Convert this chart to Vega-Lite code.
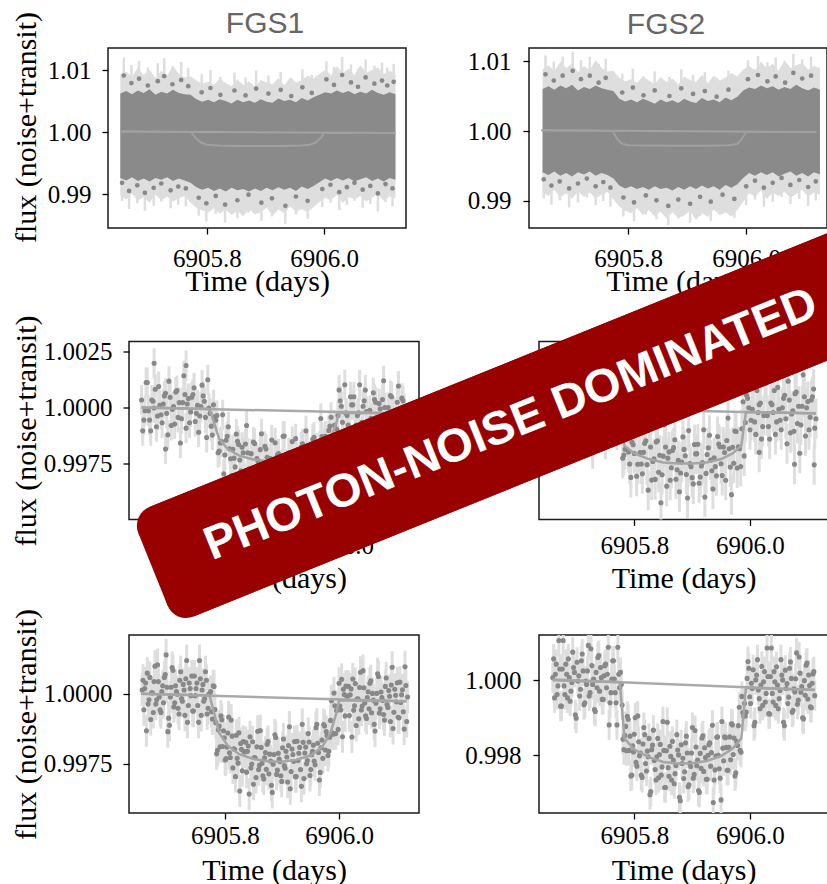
{
"$schema":"https://vega.github.io/schema/vega-lite/v6.json",
"background":"#ffffff",
"padding":{"left":10,"top":8,"right":0,"bottom":0},
"config":{
 "view":{"stroke":"#1a1a1a","strokeWidth":1.5},
 "axis":{"domain":false,"grid":false,"tickColor":"#000000","tickWidth":1.3,"tickSize":6,"labelFont":"Liberation Serif","labelFontSize":25,"labelColor":"#000000","titleFont":"Liberation Serif","titleFontSize":30,"titleFontWeight":"normal","titleColor":"#000000","labelFlush":false,"labelOverlap":false,"titleBaseline":"alphabetic"},
 "axisY":{"labelPadding":11},
 "title":{"font":"Liberation Sans","fontSize":30,"fontWeight":"normal","color":"#666666","baseline":"alphabetic","offset":13,"frame":"group"}
},
"datasets":{
"l1light":[{"t":6905.652,"f":0.9898,"f2":1.0093},{"t":6905.662,"f":0.9891,"f2":1.0097},{"t":6905.672,"f":0.9901,"f2":1.0089},{"t":6905.682,"f":0.9889,"f2":1.0104},{"t":6905.692,"f":0.9895,"f2":1.0092},{"t":6905.702,"f":0.9886,"f2":1.01},{"t":6905.712,"f":0.9899,"f2":1.0087},{"t":6905.722,"f":0.989,"f2":1.0099},{"t":6905.732,"f":0.9896,"f2":1.0091},{"t":6905.742,"f":0.9888,"f2":1.0106},{"t":6905.752,"f":0.9893,"f2":1.0094},{"t":6905.762,"f":0.9897,"f2":1.0088},{"t":6905.772,"f":0.9886,"f2":1.009},{"t":6905.782,"f":0.9878,"f2":1.0083},{"t":6905.792,"f":0.9874,"f2":1.0078},{"t":6905.802,"f":0.987,"f2":1.0081},{"t":6905.812,"f":0.9877,"f2":1.0076},{"t":6905.822,"f":0.9868,"f2":1.0086},{"t":6905.832,"f":0.9875,"f2":1.0079},{"t":6905.842,"f":0.9866,"f2":1.0074},{"t":6905.852,"f":0.9873,"f2":1.0085},{"t":6905.862,"f":0.9864,"f2":1.0076},{"t":6905.872,"f":0.9876,"f2":1.0082},{"t":6905.882,"f":0.9867,"f2":1.0073},{"t":6905.892,"f":0.9871,"f2":1.0084},{"t":6905.902,"f":0.9878,"f2":1.008},{"t":6905.912,"f":0.9865,"f2":1.0077},{"t":6905.922,"f":0.9875,"f2":1.0087},{"t":6905.932,"f":0.9869,"f2":1.0075},{"t":6905.942,"f":0.988,"f2":1.0088},{"t":6905.952,"f":0.9872,"f2":1.008},{"t":6905.962,"f":0.9876,"f2":1.0084},{"t":6905.972,"f":0.987,"f2":1.0091},{"t":6905.982,"f":0.9879,"f2":1.0086},{"t":6905.992,"f":0.9887,"f2":1.0094},{"t":6906.002,"f":0.9894,"f2":1.01},{"t":6906.012,"f":0.989,"f2":1.0092},{"t":6906.022,"f":0.9899,"f2":1.0106},{"t":6906.032,"f":0.9886,"f2":1.0095},{"t":6906.042,"f":0.9895,"f2":1.0102},{"t":6906.052,"f":0.9891,"f2":1.0091},{"t":6906.062,"f":0.9897,"f2":1.0108},{"t":6906.072,"f":0.9888,"f2":1.0095},{"t":6906.082,"f":0.9894,"f2":1.01},{"t":6906.092,"f":0.99,"f2":1.0104},{"t":6906.102,"f":0.9889,"f2":1.0093},{"t":6906.112,"f":0.9896,"f2":1.0099},{"t":6906.122,"f":0.9893,"f2":1.0095}],
"l1band":[{"t":6905.652,"f":0.9926,"f2":1.0062},{"t":6905.662,"f":0.9922,"f2":1.0066},{"t":6905.672,"f":0.9927,"f2":1.0061},{"t":6905.682,"f":0.9921,"f2":1.0067},{"t":6905.692,"f":0.9925,"f2":1.0063},{"t":6905.702,"f":0.992,"f2":1.0069},{"t":6905.712,"f":0.9926,"f2":1.006},{"t":6905.722,"f":0.9923,"f2":1.0065},{"t":6905.732,"f":0.9927,"f2":1.0062},{"t":6905.742,"f":0.9921,"f2":1.0068},{"t":6905.752,"f":0.9925,"f2":1.0063},{"t":6905.762,"f":0.9922,"f2":1.0061},{"t":6905.772,"f":0.9918,"f2":1.006},{"t":6905.782,"f":0.9911,"f2":1.0053},{"t":6905.792,"f":0.9907,"f2":1.0049},{"t":6905.802,"f":0.991,"f2":1.0052},{"t":6905.812,"f":0.9905,"f2":1.0048},{"t":6905.822,"f":0.9909,"f2":1.0053},{"t":6905.832,"f":0.9904,"f2":1.005},{"t":6905.842,"f":0.991,"f2":1.0046},{"t":6905.852,"f":0.9906,"f2":1.0052},{"t":6905.862,"f":0.9908,"f2":1.0048},{"t":6905.872,"f":0.9904,"f2":1.0051},{"t":6905.882,"f":0.9909,"f2":1.0047},{"t":6905.892,"f":0.9905,"f2":1.0053},{"t":6905.902,"f":0.991,"f2":1.0049},{"t":6905.912,"f":0.9906,"f2":1.0047},{"t":6905.922,"f":0.9911,"f2":1.0054},{"t":6905.932,"f":0.9907,"f2":1.005},{"t":6905.942,"f":0.991,"f2":1.0052},{"t":6905.952,"f":0.9905,"f2":1.0048},{"t":6905.962,"f":0.9912,"f2":1.0055},{"t":6905.972,"f":0.9908,"f2":1.0051},{"t":6905.982,"f":0.9913,"f2":1.0056},{"t":6905.992,"f":0.9919,"f2":1.006},{"t":6906.002,"f":0.9925,"f2":1.0064},{"t":6906.012,"f":0.9921,"f2":1.0062},{"t":6906.022,"f":0.9926,"f2":1.0067},{"t":6906.032,"f":0.9922,"f2":1.0063},{"t":6906.042,"f":0.9926,"f2":1.0066},{"t":6906.052,"f":0.992,"f2":1.0061},{"t":6906.062,"f":0.9924,"f2":1.0065},{"t":6906.072,"f":0.9927,"f2":1.0062},{"t":6906.082,"f":0.9921,"f2":1.0068},{"t":6906.092,"f":0.9925,"f2":1.0063},{"t":6906.102,"f":0.992,"f2":1.006},{"t":6906.112,"f":0.9926,"f2":1.0064},{"t":6906.122,"f":0.9923,"f2":1.0061}],
"l1out":[{"t":6905.658,"f":1.0091},{"t":6905.671,"f":1.0079},{"t":6905.684,"f":1.0086},{"t":6905.699,"f":1.0075},{"t":6905.716,"f":1.0082},{"t":6905.727,"f":1.009},{"t":6905.741,"f":1.0077},{"t":6905.756,"f":1.0084},{"t":6905.768,"f":1.0074},{"t":6905.791,"f":1.0064},{"t":6905.806,"f":1.0071},{"t":6905.823,"f":1.006},{"t":6905.847,"f":1.0067},{"t":6905.866,"f":1.0059},{"t":6905.884,"f":1.007},{"t":6905.905,"f":1.0062},{"t":6905.926,"f":1.0068},{"t":6905.944,"f":1.0058},{"t":6905.963,"f":1.0072},{"t":6905.979,"f":1.0063},{"t":6906.004,"f":1.0085},{"t":6906.017,"f":1.0076},{"t":6906.031,"f":1.0092},{"t":6906.046,"f":1.008},{"t":6906.058,"f":1.0073},{"t":6906.071,"f":1.0088},{"t":6906.086,"f":1.0078},{"t":6906.099,"f":1.0083},{"t":6906.108,"f":1.0075},{"t":6906.119,"f":1.0081},{"t":6905.655,"f":0.9918},{"t":6905.667,"f":0.9905},{"t":6905.681,"f":0.9914},{"t":6905.694,"f":0.9902},{"t":6905.709,"f":0.991},{"t":6905.722,"f":0.9917},{"t":6905.738,"f":0.9906},{"t":6905.751,"f":0.9912},{"t":6905.764,"f":0.9909},{"t":6905.786,"f":0.9894},{"t":6905.799,"f":0.9885},{"t":6905.815,"f":0.9897},{"t":6905.831,"f":0.9883},{"t":6905.852,"f":0.989},{"t":6905.871,"f":0.9899},{"t":6905.893,"f":0.9886},{"t":6905.911,"f":0.9893},{"t":6905.934,"f":0.9881},{"t":6905.952,"f":0.9896},{"t":6905.972,"f":0.9889},{"t":6905.997,"f":0.9908},{"t":6906.011,"f":0.9915},{"t":6906.026,"f":0.9903},{"t":6906.039,"f":0.9911},{"t":6906.052,"f":0.9918},{"t":6906.066,"f":0.9907},{"t":6906.079,"f":0.9913},{"t":6906.092,"f":0.9901},{"t":6906.105,"f":0.9916},{"t":6906.117,"f":0.9909}],
"l1trend":[{"t":6905.652,"f":1.0001},{"t":6906.122,"f":0.99985}],
"l1model":[{"t":6905.652,"f":1.0001},{"t":6905.773,"f":1.0},{"t":6905.78,"f":0.9991},{"t":6905.79,"f":0.9983},{"t":6905.8,"f":0.99795},{"t":6905.82,"f":0.99782},{"t":6905.85,"f":0.99776},{"t":6905.89,"f":0.99773},{"t":6905.93,"f":0.99775},{"t":6905.96,"f":0.99782},{"t":6905.975,"f":0.99795},{"t":6905.985,"f":0.99825},{"t":6905.995,"f":0.9991},{"t":6906.0,"f":0.99988},{"t":6906.122,"f":0.99985}],
"r1light":[{"t":6905.655,"f":0.9913,"f2":1.0088},{"t":6905.665,"f":0.9907,"f2":1.0094},{"t":6905.675,"f":0.9916,"f2":1.0085},{"t":6905.685,"f":0.9905,"f2":1.0099},{"t":6905.695,"f":0.9911,"f2":1.009},{"t":6905.705,"f":0.9903,"f2":1.0096},{"t":6905.715,"f":0.9914,"f2":1.0084},{"t":6905.725,"f":0.9906,"f2":1.0093},{"t":6905.735,"f":0.9912,"f2":1.0087},{"t":6905.745,"f":0.9904,"f2":1.0101},{"t":6905.755,"f":0.9909,"f2":1.009},{"t":6905.765,"f":0.9913,"f2":1.0085},{"t":6905.775,"f":0.9902,"f2":1.0086},{"t":6905.785,"f":0.9892,"f2":1.0076},{"t":6905.795,"f":0.9886,"f2":1.0071},{"t":6905.805,"f":0.9883,"f2":1.0074},{"t":6905.815,"f":0.989,"f2":1.0069},{"t":6905.825,"f":0.988,"f2":1.0078},{"t":6905.835,"f":0.9887,"f2":1.0072},{"t":6905.845,"f":0.9878,"f2":1.0067},{"t":6905.855,"f":0.9885,"f2":1.0077},{"t":6905.865,"f":0.9875,"f2":1.007},{"t":6905.875,"f":0.9884,"f2":1.0075},{"t":6905.885,"f":0.9876,"f2":1.0066},{"t":6905.895,"f":0.9879,"f2":1.0078},{"t":6905.905,"f":0.9886,"f2":1.0073},{"t":6905.915,"f":0.9873,"f2":1.007},{"t":6905.925,"f":0.9883,"f2":1.008},{"t":6905.935,"f":0.9877,"f2":1.0068},{"t":6905.945,"f":0.9888,"f2":1.0079},{"t":6905.955,"f":0.988,"f2":1.0072},{"t":6905.965,"f":0.9884,"f2":1.0076},{"t":6905.975,"f":0.9878,"f2":1.0083},{"t":6905.985,"f":0.9887,"f2":1.0078},{"t":6905.995,"f":0.9899,"f2":1.0088},{"t":6906.005,"f":0.9911,"f2":1.0093},{"t":6906.015,"f":0.9906,"f2":1.0087},{"t":6906.025,"f":0.9915,"f2":1.0099},{"t":6906.035,"f":0.9903,"f2":1.009},{"t":6906.045,"f":0.9912,"f2":1.0096},{"t":6906.055,"f":0.9907,"f2":1.0086},{"t":6906.065,"f":0.9913,"f2":1.0101},{"t":6906.075,"f":0.9905,"f2":1.009},{"t":6906.085,"f":0.991,"f2":1.0094},{"t":6906.095,"f":0.9916,"f2":1.0097},{"t":6906.105,"f":0.9906,"f2":1.0088},{"t":6906.115,"f":0.9912,"f2":1.0093},{"t":6906.125,"f":0.9909,"f2":1.009}],
"r1band":[{"t":6905.655,"f":0.9941,"f2":1.006},{"t":6905.665,"f":0.9937,"f2":1.0064},{"t":6905.675,"f":0.9942,"f2":1.0059},{"t":6905.685,"f":0.9936,"f2":1.0065},{"t":6905.695,"f":0.994,"f2":1.0061},{"t":6905.705,"f":0.9935,"f2":1.0066},{"t":6905.715,"f":0.9941,"f2":1.0058},{"t":6905.725,"f":0.9938,"f2":1.0063},{"t":6905.735,"f":0.9942,"f2":1.006},{"t":6905.745,"f":0.9936,"f2":1.0065},{"t":6905.755,"f":0.994,"f2":1.0061},{"t":6905.765,"f":0.9937,"f2":1.0059},{"t":6905.775,"f":0.9932,"f2":1.0057},{"t":6905.785,"f":0.9922,"f2":1.0046},{"t":6905.795,"f":0.9918,"f2":1.0042},{"t":6905.805,"f":0.9921,"f2":1.0045},{"t":6905.815,"f":0.9917,"f2":1.0041},{"t":6905.825,"f":0.992,"f2":1.0046},{"t":6905.835,"f":0.9916,"f2":1.0043},{"t":6905.845,"f":0.9921,"f2":1.0039},{"t":6905.855,"f":0.9917,"f2":1.0045},{"t":6905.865,"f":0.9919,"f2":1.0041},{"t":6905.875,"f":0.9915,"f2":1.0044},{"t":6905.885,"f":0.992,"f2":1.004},{"t":6905.895,"f":0.9916,"f2":1.0046},{"t":6905.905,"f":0.9921,"f2":1.0042},{"t":6905.915,"f":0.9917,"f2":1.004},{"t":6905.925,"f":0.9922,"f2":1.0047},{"t":6905.935,"f":0.9918,"f2":1.0043},{"t":6905.945,"f":0.9921,"f2":1.0045},{"t":6905.955,"f":0.9916,"f2":1.0041},{"t":6905.965,"f":0.9923,"f2":1.0048},{"t":6905.975,"f":0.9919,"f2":1.0044},{"t":6905.985,"f":0.9924,"f2":1.0049},{"t":6905.995,"f":0.9933,"f2":1.0058},{"t":6906.005,"f":0.994,"f2":1.0062},{"t":6906.015,"f":0.9936,"f2":1.006},{"t":6906.025,"f":0.9941,"f2":1.0065},{"t":6906.035,"f":0.9937,"f2":1.0061},{"t":6906.045,"f":0.9941,"f2":1.0064},{"t":6906.055,"f":0.9935,"f2":1.0059},{"t":6906.065,"f":0.9939,"f2":1.0063},{"t":6906.075,"f":0.9942,"f2":1.006},{"t":6906.085,"f":0.9936,"f2":1.0066},{"t":6906.095,"f":0.994,"f2":1.0061},{"t":6906.105,"f":0.9935,"f2":1.0058},{"t":6906.115,"f":0.9941,"f2":1.0062},{"t":6906.125,"f":0.9938,"f2":1.0059}],
"r1out":[{"t":6905.66,"f":1.0081},{"t":6905.674,"f":1.0072},{"t":6905.689,"f":1.0079},{"t":6905.706,"f":1.0086},{"t":6905.72,"f":1.0074},{"t":6905.735,"f":1.0079},{"t":6905.75,"f":1.0069},{"t":6905.762,"f":1.0076},{"t":6905.79,"f":1.0055},{"t":6905.808,"f":1.0062},{"t":6905.826,"f":1.0051},{"t":6905.845,"f":1.0058},{"t":6905.87,"f":1.005},{"t":6905.89,"f":1.0061},{"t":6905.91,"f":1.0053},{"t":6905.93,"f":1.0057},{"t":6905.95,"f":1.0049},{"t":6905.97,"f":1.0059},{"t":6906.003,"f":1.0074},{"t":6906.02,"f":1.008},{"t":6906.036,"f":1.0071},{"t":6906.05,"f":1.0078},{"t":6906.066,"f":1.0069},{"t":6906.08,"f":1.0083},{"t":6906.095,"f":1.0075},{"t":6906.11,"f":1.0079},{"t":6905.657,"f":0.9931},{"t":6905.67,"f":0.9922},{"t":6905.684,"f":0.9928},{"t":6905.7,"f":0.9918},{"t":6905.715,"f":0.9925},{"t":6905.73,"f":0.9932},{"t":6905.745,"f":0.9921},{"t":6905.758,"f":0.9927},{"t":6905.77,"f":0.9919},{"t":6905.792,"f":0.9905},{"t":6905.81,"f":0.9898},{"t":6905.83,"f":0.9908},{"t":6905.848,"f":0.9901},{"t":6905.868,"f":0.9893},{"t":6905.885,"f":0.9902},{"t":6905.905,"f":0.9896},{"t":6905.922,"f":0.9906},{"t":6905.94,"f":0.9899},{"t":6905.96,"f":0.9909},{"t":6905.98,"f":0.9903},{"t":6906.0,"f":0.9921},{"t":6906.015,"f":0.9929},{"t":6906.03,"f":0.9919},{"t":6906.045,"f":0.9926},{"t":6906.06,"f":0.9933},{"t":6906.075,"f":0.9923},{"t":6906.09,"f":0.993},{"t":6906.105,"f":0.992},{"t":6906.118,"f":0.9928}],
"r1trend":[{"t":6905.653,"f":1.0001},{"t":6906.119,"f":0.99985}],
"r1model":[{"t":6905.653,"f":1.0001},{"t":6905.774,"f":1.0},{"t":6905.781,"f":0.9989},{"t":6905.79,"f":0.99815},{"t":6905.8,"f":0.99798},{"t":6905.83,"f":0.99792},{"t":6905.88,"f":0.99788},{"t":6905.93,"f":0.9979},{"t":6905.97,"f":0.99796},{"t":6905.985,"f":0.99815},{"t":6905.993,"f":0.9989},{"t":6906.0,"f":0.99988},{"t":6906.119,"f":0.99985}],
"l2pts":[{"t":6905.654,"f":1.00034},{"t":6905.658,"f":0.99944},{"t":6905.662,"f":1.00112},{"t":6905.666,"f":0.99986},{"t":6905.67,"f":0.99896},{"t":6905.674,"f":1.00028},{"t":6905.678,"f":1.00082},{"t":6905.682,"f":0.99962},{"t":6905.686,"f":1.0001},{"t":6905.69,"f":0.99932},{"t":6905.694,"f":1.00052},{"t":6905.698,"f":0.99974},{"t":6905.702,"f":1.00118},{"t":6905.706,"f":0.9992},{"t":6905.71,"f":1.00004},{"t":6905.714,"f":1.0007},{"t":6905.718,"f":0.99956},{"t":6905.722,"f":0.99842},{"t":6905.726,"f":1.00022},{"t":6905.73,"f":1.00058},{"t":6905.734,"f":1.00016},{"t":6905.738,"f":0.99932},{"t":6905.742,"f":1.00046},{"t":6905.746,"f":1.00088},{"t":6905.75,"f":0.99974},{"t":6905.754,"f":0.9989},{"t":6905.758,"f":1.00004},{"t":6905.762,"f":1.00052},{"t":6905.766,"f":0.99956},{"t":6905.77,"f":1.00124},{"t":6905.774,"f":0.99974},{"t":6905.676,"f":1.00198},{"t":6905.732,"f":1.00188},{"t":6905.696,"f":0.99815},{"t":6905.778,"f":0.99877},{"t":6905.782,"f":0.99959},{"t":6905.786,"f":0.99964},{"t":6905.79,"f":0.99806},{"t":6905.794,"f":0.99848},{"t":6905.798,"f":0.99704},{"t":6905.802,"f":0.99854},{"t":6905.806,"f":0.99914},{"t":6905.81,"f":0.99771},{"t":6905.814,"f":0.99813},{"t":6905.818,"f":0.99735},{"t":6905.822,"f":0.99849},{"t":6905.826,"f":0.99766},{"t":6905.83,"f":0.99823},{"t":6905.834,"f":0.99688},{"t":6905.838,"f":0.9992},{"t":6905.842,"f":0.99725},{"t":6905.846,"f":0.99794},{"t":6905.85,"f":0.99846},{"t":6905.854,"f":0.99695},{"t":6905.858,"f":0.99759},{"t":6905.862,"f":0.99812},{"t":6905.866,"f":0.99643},{"t":6905.87,"f":0.99827},{"t":6905.874,"f":0.99778},{"t":6905.878,"f":0.9973},{"t":6905.882,"f":0.99855},{"t":6905.886,"f":0.99675},{"t":6905.89,"f":0.99759},{"t":6905.894,"f":0.99794},{"t":6905.898,"f":0.99704},{"t":6905.902,"f":0.99872},{"t":6905.906,"f":0.99748},{"t":6905.91,"f":0.99659},{"t":6905.914,"f":0.99792},{"t":6905.918,"f":0.99848},{"t":6905.922,"f":0.99729},{"t":6905.926,"f":0.99778},{"t":6905.93,"f":0.99702},{"t":6905.934,"f":0.99825},{"t":6905.938,"f":0.99749},{"t":6905.942,"f":0.99896},{"t":6905.946,"f":0.997},{"t":6905.95,"f":0.99786},{"t":6905.954,"f":0.99858},{"t":6905.958,"f":0.9975},{"t":6905.962,"f":0.99642},{"t":6905.966,"f":0.99828},{"t":6905.97,"f":0.9987},{"t":6905.974,"f":0.99841},{"t":6905.978,"f":0.99771},{"t":6905.982,"f":0.99898},{"t":6905.986,"f":0.99957},{"t":6905.99,"f":0.99871},{"t":6905.994,"f":0.99815},{"t":6905.998,"f":0.99964},{"t":6906.002,"f":1.0003},{"t":6906.006,"f":0.99934},{"t":6906.01,"f":1.00102},{"t":6906.014,"f":0.99964},{"t":6906.018,"f":0.99898},{"t":6906.022,"f":1.00012},{"t":6906.026,"f":1.00048},{"t":6906.03,"f":0.99922},{"t":6906.034,"f":0.99976},{"t":6906.038,"f":0.99844},{"t":6906.042,"f":1.00006},{"t":6906.046,"f":1.00078},{"t":6906.05,"f":0.9994},{"t":6906.054,"f":0.99988},{"t":6906.058,"f":0.99916},{"t":6906.062,"f":1.00036},{"t":6906.066,"f":0.99958},{"t":6906.07,"f":1.00018},{"t":6906.074,"f":0.99886},{"t":6906.078,"f":1.0012},{"t":6906.082,"f":0.99928},{"t":6906.086,"f":1.0},{"t":6906.09,"f":1.00054},{"t":6906.094,"f":0.99904},{"t":6906.098,"f":0.9997},{"t":6906.102,"f":1.00024},{"t":6906.106,"f":0.99856},{"t":6906.11,"f":1.00042},{"t":6906.114,"f":0.99994},{"t":6906.118,"f":0.99946}],
"l2x":[{"t":6905.656,"f":0.99896},{"t":6905.66,"f":0.99986},{"t":6905.664,"f":1.00112},{"t":6905.668,"f":0.99944},{"t":6905.672,"f":1.00034},{"t":6905.676,"f":0.99998},{"t":6905.68,"f":0.99914},{"t":6905.684,"f":1.00094},{"t":6905.688,"f":0.99968},{"t":6905.692,"f":1.00016},{"t":6905.696,"f":1.00064},{"t":6905.7,"f":0.99878},{"t":6905.704,"f":1.00046},{"t":6905.708,"f":0.99992},{"t":6905.712,"f":0.99926},{"t":6905.716,"f":1.00076},{"t":6905.72,"f":1.00022},{"t":6905.724,"f":0.9995},{"t":6905.728,"f":1.00142},{"t":6905.732,"f":0.99908},{"t":6905.736,"f":1.0004},{"t":6905.74,"f":0.9998},{"t":6905.744,"f":1.00058},{"t":6905.748,"f":0.99938},{"t":6905.752,"f":1.0001},{"t":6905.756,"f":0.99962},{"t":6905.76,"f":1.001},{"t":6905.764,"f":1.00028},{"t":6905.768,"f":0.99866},{"t":6905.772,"f":0.99998},{"t":6905.776,"f":0.99917},{"t":6905.78,"f":1.00012},{"t":6905.784,"f":0.99943},{"t":6905.788,"f":0.99798},{"t":6905.792,"f":0.99842},{"t":6905.796,"f":0.99968},{"t":6905.8,"f":0.99788},{"t":6905.804,"f":0.99872},{"t":6905.808,"f":0.99816},{"t":6905.812,"f":0.99696},{"t":6905.816,"f":0.99774},{"t":6905.82,"f":0.99882},{"t":6905.824,"f":0.99835},{"t":6905.828,"f":0.99717},{"t":6905.832,"f":0.99798},{"t":6905.836,"f":0.99837},{"t":6905.84,"f":0.99798},{"t":6905.844,"f":0.99616},{"t":6905.848,"f":0.99727},{"t":6905.852,"f":0.99839},{"t":6905.856,"f":0.99772},{"t":6905.86,"f":0.99687},{"t":6905.864,"f":0.99883},{"t":6905.868,"f":0.99738},{"t":6905.872,"f":0.99815},{"t":6905.876,"f":0.99694},{"t":6905.88,"f":0.99772},{"t":6905.884,"f":0.99723},{"t":6905.888,"f":0.99843},{"t":6905.892,"f":0.99788},{"t":6905.896,"f":0.99656},{"t":6905.9,"f":0.99746},{"t":6905.904,"f":0.99873},{"t":6905.908,"f":0.99706},{"t":6905.912,"f":0.99798},{"t":6905.916,"f":0.99763},{"t":6905.92,"f":0.9968},{"t":6905.924,"f":0.99861},{"t":6905.928,"f":0.99737},{"t":6905.932,"f":0.99788},{"t":6905.936,"f":0.99838},{"t":6905.94,"f":0.99654},{"t":6905.944,"f":0.99825},{"t":6905.948,"f":0.99773},{"t":6905.952,"f":0.99711},{"t":6905.956,"f":0.99867},{"t":6905.96,"f":0.99819},{"t":6905.964,"f":0.99753},{"t":6905.968,"f":0.99951},{"t":6905.972,"f":0.99727},{"t":6905.976,"f":0.99872},{"t":6905.98,"f":0.99825},{"t":6905.984,"f":0.99917},{"t":6905.988,"f":0.99821},{"t":6905.992,"f":0.99921},{"t":6905.996,"f":0.99903},{"t":6906.0,"f":1.00078},{"t":6906.004,"f":1.00006},{"t":6906.008,"f":0.99844},{"t":6906.012,"f":0.99976},{"t":6906.016,"f":0.99922},{"t":6906.02,"f":1.00048},{"t":6906.024,"f":1.00012},{"t":6906.028,"f":0.99898},{"t":6906.032,"f":0.99964},{"t":6906.036,"f":1.00102},{"t":6906.04,"f":0.99934},{"t":6906.044,"f":1.0003},{"t":6906.048,"f":0.99982},{"t":6906.052,"f":0.99868},{"t":6906.056,"f":0.99952},{"t":6906.06,"f":1.00066},{"t":6906.064,"f":1.00024},{"t":6906.068,"f":0.9991},{"t":6906.072,"f":0.99994},{"t":6906.076,"f":1.00036},{"t":6906.08,"f":1.0},{"t":6906.084,"f":0.9982},{"t":6906.088,"f":0.99934},{"t":6906.092,"f":1.00048},{"t":6906.096,"f":0.99982},{"t":6906.1,"f":0.99898},{"t":6906.104,"f":1.00096},{"t":6906.108,"f":0.99952},{"t":6906.112,"f":1.0003},{"t":6906.116,"f":0.9991}],
"l2trend":[{"t":6905.654,"f":1.0},{"t":6906.118,"f":0.99973}],
"l2model":[{"t":6905.654,"f":1.0},{"t":6905.773,"f":0.99994},{"t":6905.78,"f":0.9994},{"t":6905.79,"f":0.9986},{"t":6905.805,"f":0.99815},{"t":6905.825,"f":0.99785},{"t":6905.85,"f":0.99768},{"t":6905.875,"f":0.9976},{"t":6905.9,"f":0.99758},{"t":6905.925,"f":0.99765},{"t":6905.95,"f":0.9978},{"t":6905.97,"f":0.9981},{"t":6905.985,"f":0.9986},{"t":6905.995,"f":0.9993},{"t":6906.0,"f":0.99977},{"t":6906.118,"f":0.99973}],
"r2pts":[{"t":6905.658,"f":0.99984},{"t":6905.662,"f":0.99907},{"t":6905.666,"f":1.0004},{"t":6905.67,"f":1.00082},{"t":6905.674,"f":0.99935},{"t":6905.678,"f":0.99998},{"t":6905.682,"f":0.99844},{"t":6905.686,"f":1.00033},{"t":6905.69,"f":1.00117},{"t":6905.694,"f":0.99956},{"t":6905.698,"f":1.00012},{"t":6905.702,"f":0.99928},{"t":6905.706,"f":1.00068},{"t":6905.71,"f":0.99977},{"t":6905.714,"f":1.00047},{"t":6905.718,"f":0.99893},{"t":6905.722,"f":1.00166},{"t":6905.726,"f":0.99942},{"t":6905.73,"f":1.00026},{"t":6905.734,"f":1.00089},{"t":6905.738,"f":0.99914},{"t":6905.742,"f":0.99991},{"t":6905.746,"f":1.00054},{"t":6905.75,"f":0.99858},{"t":6905.754,"f":1.00075},{"t":6905.758,"f":1.00019},{"t":6905.762,"f":0.99963},{"t":6905.766,"f":1.0011},{"t":6905.77,"f":0.999},{"t":6905.774,"f":0.99998},{"t":6905.778,"f":0.99977},{"t":6905.782,"f":0.99788},{"t":6905.786,"f":0.99957},{"t":6905.79,"f":0.99802},{"t":6905.794,"f":0.99688},{"t":6905.798,"f":0.99834},{"t":6905.802,"f":0.99891},{"t":6905.806,"f":0.99747},{"t":6905.81,"f":0.99799},{"t":6905.814,"f":0.99704},{"t":6905.818,"f":0.9984},{"t":6905.822,"f":0.99745},{"t":6905.826,"f":0.9991},{"t":6905.83,"f":0.99676},{"t":6905.834,"f":0.99771},{"t":6905.838,"f":0.99846},{"t":6905.842,"f":0.99711},{"t":6905.846,"f":0.99575},{"t":6905.85,"f":0.99783},{"t":6905.854,"f":0.99824},{"t":6905.858,"f":0.99774},{"t":6905.862,"f":0.99675},{"t":6905.866,"f":0.99808},{"t":6905.87,"f":0.99856},{"t":6905.874,"f":0.99722},{"t":6905.878,"f":0.99624},{"t":6905.882,"f":0.99757},{"t":6905.886,"f":0.99813},{"t":6905.89,"f":0.99701},{"t":6905.894,"f":0.99897},{"t":6905.898,"f":0.99736},{"t":6905.902,"f":0.99659},{"t":6905.906,"f":0.99793},{"t":6905.91,"f":0.99836},{"t":6905.914,"f":0.9969},{"t":6905.918,"f":0.99754},{"t":6905.922,"f":0.996},{"t":6905.926,"f":0.9979},{"t":6905.93,"f":0.99876},{"t":6905.934,"f":0.99718},{"t":6905.938,"f":0.99776},{"t":6905.942,"f":0.99695},{"t":6905.946,"f":0.99837},{"t":6905.95,"f":0.99749},{"t":6905.954,"f":0.99824},{"t":6905.958,"f":0.99675},{"t":6905.962,"f":0.99953},{"t":6905.966,"f":0.99734},{"t":6905.97,"f":0.99823},{"t":6905.974,"f":0.99895},{"t":6905.978,"f":0.9973},{"t":6905.982,"f":0.99816},{"t":6905.986,"f":0.99905},{"t":6905.99,"f":0.99784},{"t":6905.994,"f":1.00055},{"t":6905.998,"f":0.99999},{"t":6906.002,"f":0.99943},{"t":6906.006,"f":1.0009},{"t":6906.01,"f":0.9988},{"t":6906.014,"f":0.99978},{"t":6906.018,"f":1.0002},{"t":6906.022,"f":0.99915},{"t":6906.026,"f":1.00111},{"t":6906.03,"f":0.99964},{"t":6906.034,"f":0.99859},{"t":6906.038,"f":1.00013},{"t":6906.042,"f":1.00076},{"t":6906.046,"f":0.99936},{"t":6906.05,"f":0.99992},{"t":6906.054,"f":0.99901},{"t":6906.058,"f":1.00041},{"t":6906.062,"f":0.9995},{"t":6906.066,"f":1.00118},{"t":6906.07,"f":0.99887},{"t":6906.074,"f":0.99985},{"t":6906.078,"f":1.00062},{"t":6906.082,"f":0.99929},{"t":6906.086,"f":0.99796},{"t":6906.09,"f":1.00006},{"t":6906.094,"f":1.00048},{"t":6906.098,"f":0.99999},{"t":6906.102,"f":0.99901},{"t":6906.106,"f":1.00034},{"t":6906.11,"f":1.00083},{"t":6906.114,"f":0.9995},{"t":6906.016,"f":0.998},{"t":6906.077,"f":0.99747},{"t":6906.111,"f":0.99744}],
"r2x":[{"t":6905.66,"f":0.99935},{"t":6905.664,"f":1.00082},{"t":6905.668,"f":1.0004},{"t":6905.672,"f":0.99907},{"t":6905.676,"f":0.99984},{"t":6905.68,"f":1.00145},{"t":6905.684,"f":0.99949},{"t":6905.688,"f":1.00061},{"t":6905.692,"f":1.00005},{"t":6905.696,"f":0.99872},{"t":6905.7,"f":0.9997},{"t":6905.704,"f":1.00103},{"t":6905.708,"f":1.00054},{"t":6905.712,"f":0.99921},{"t":6905.716,"f":1.00019},{"t":6905.72,"f":1.00068},{"t":6905.724,"f":1.00026},{"t":6905.728,"f":0.99816},{"t":6905.732,"f":0.99949},{"t":6905.736,"f":1.00082},{"t":6905.74,"f":1.00005},{"t":6905.744,"f":0.99907},{"t":6905.748,"f":1.00138},{"t":6905.752,"f":0.9997},{"t":6905.756,"f":1.00061},{"t":6905.76,"f":0.99921},{"t":6905.764,"f":1.00012},{"t":6905.768,"f":0.99956},{"t":6905.772,"f":1.00096},{"t":6905.776,"f":1.00012},{"t":6905.78,"f":0.99774},{"t":6905.784,"f":0.99814},{"t":6905.788,"f":0.99953},{"t":6905.792,"f":0.99748},{"t":6905.796,"f":0.99845},{"t":6905.8,"f":0.99795},{"t":6905.804,"f":0.99693},{"t":6905.808,"f":0.99899},{"t":6905.812,"f":0.99748},{"t":6905.816,"f":0.998},{"t":6905.82,"f":0.99852},{"t":6905.824,"f":0.99631},{"t":6905.828,"f":0.99824},{"t":6905.832,"f":0.99759},{"t":6905.836,"f":0.99679},{"t":6905.84,"f":0.99852},{"t":6905.844,"f":0.99787},{"t":6905.848,"f":0.997},{"t":6905.852,"f":0.99923},{"t":6905.856,"f":0.99649},{"t":6905.86,"f":0.99802},{"t":6905.864,"f":0.99731},{"t":6905.868,"f":0.99821},{"t":6905.872,"f":0.9968},{"t":6905.876,"f":0.99764},{"t":6905.88,"f":0.99708},{"t":6905.884,"f":0.99869},{"t":6905.888,"f":0.99785},{"t":6905.892,"f":0.99596},{"t":6905.896,"f":0.9975},{"t":6905.9,"f":0.99687},{"t":6905.904,"f":0.99835},{"t":6905.908,"f":0.99794},{"t":6905.912,"f":0.99662},{"t":6905.916,"f":0.99739},{"t":6905.92,"f":0.99901},{"t":6905.924,"f":0.99706},{"t":6905.928,"f":0.9982},{"t":6905.932,"f":0.99766},{"t":6905.936,"f":0.99636},{"t":6905.94,"f":0.99736},{"t":6905.944,"f":0.99871},{"t":6905.948,"f":0.99825},{"t":6905.952,"f":0.99696},{"t":6905.956,"f":0.99799},{"t":6905.96,"f":0.99853},{"t":6905.964,"f":0.99816},{"t":6905.968,"f":0.99611},{"t":6905.972,"f":0.99751},{"t":6905.976,"f":0.99893},{"t":6905.98,"f":0.99825},{"t":6905.984,"f":0.99737},{"t":6905.988,"f":1.00026},{"t":6905.992,"f":0.99933},{"t":6905.996,"f":1.00041},{"t":6906.0,"f":0.99901},{"t":6906.004,"f":0.99992},{"t":6906.008,"f":0.99936},{"t":6906.012,"f":1.00076},{"t":6906.016,"f":1.00013},{"t":6906.02,"f":0.99859},{"t":6906.024,"f":0.99964},{"t":6906.028,"f":1.00111},{"t":6906.032,"f":0.99915},{"t":6906.036,"f":1.0002},{"t":6906.04,"f":0.99978},{"t":6906.044,"f":0.9988},{"t":6906.048,"f":1.0009},{"t":6906.052,"f":0.99943},{"t":6906.056,"f":0.99999},{"t":6906.06,"f":1.00055},{"t":6906.064,"f":0.99838},{"t":6906.068,"f":1.00034},{"t":6906.072,"f":0.99971},{"t":6906.076,"f":0.99894},{"t":6906.08,"f":1.00069},{"t":6906.084,"f":1.00006},{"t":6906.088,"f":0.99922},{"t":6906.092,"f":1.00146},{"t":6906.096,"f":0.99873},{"t":6906.1,"f":1.00027},{"t":6906.104,"f":0.99957},{"t":6906.108,"f":1.00048},{"t":6906.112,"f":0.99908}],
"r2trend":[{"t":6905.658,"f":1.0},{"t":6906.114,"f":0.99973}],
"r2model":[{"t":6905.658,"f":1.0},{"t":6905.775,"f":0.99998},{"t":6905.783,"f":0.9983},{"t":6905.8,"f":0.99795},{"t":6905.825,"f":0.9977},{"t":6905.85,"f":0.99755},{"t":6905.875,"f":0.9975},{"t":6905.9,"f":0.9975},{"t":6905.925,"f":0.99755},{"t":6905.95,"f":0.9977},{"t":6905.97,"f":0.99795},{"t":6905.985,"f":0.9983},{"t":6905.993,"f":0.9998},{"t":6906.114,"f":0.99975}],
"l3pts":[{"t":6905.655,"f":1.00013},{"t":6905.658,"f":0.99943},{"t":6905.661,"f":1.00038},{"t":6905.664,"f":1.00073},{"t":6905.667,"f":0.99978},{"t":6905.67,"f":0.99908},{"t":6905.673,"f":1.00003},{"t":6905.676,"f":1.00043},{"t":6905.679,"f":0.99963},{"t":6905.682,"f":1.00103},{"t":6905.685,"f":0.99988},{"t":6905.688,"f":0.99933},{"t":6905.691,"f":1.00028},{"t":6905.694,"f":1.00058},{"t":6905.697,"f":1.00138},{"t":6905.7,"f":0.99865},{"t":6905.703,"f":0.99888},{"t":6905.706,"f":1.00023},{"t":6905.709,"f":1.00083},{"t":6905.712,"f":0.99968},{"t":6905.715,"f":1.00008},{"t":6905.718,"f":0.99948},{"t":6905.721,"f":1.00048},{"t":6905.724,"f":0.99983},{"t":6905.727,"f":1.00033},{"t":6905.73,"f":0.99923},{"t":6905.733,"f":1.00118},{"t":6905.736,"f":0.99958},{"t":6905.739,"f":1.00018},{"t":6905.742,"f":1.00063},{"t":6905.745,"f":0.99938},{"t":6905.748,"f":0.99993},{"t":6905.751,"f":1.00038},{"t":6905.754,"f":0.99898},{"t":6905.757,"f":1.00053},{"t":6905.76,"f":1.00013},{"t":6905.763,"f":0.99973},{"t":6905.766,"f":1.00078},{"t":6905.769,"f":0.99928},{"t":6905.772,"f":0.99998},{"t":6905.775,"f":1.00008},{"t":6905.778,"f":0.9991},{"t":6905.781,"f":1.00026},{"t":6905.784,"f":0.99897},{"t":6905.787,"f":0.99799},{"t":6905.79,"f":0.99885},{"t":6905.793,"f":0.99921},{"t":6905.796,"f":0.99812},{"t":6905.799,"f":0.99843},{"t":6905.802,"f":0.99769},{"t":6905.805,"f":0.9986},{"t":6905.808,"f":0.9979},{"t":6905.811,"f":0.99906},{"t":6905.814,"f":0.99736},{"t":6905.817,"f":0.99802},{"t":6905.82,"f":0.99852},{"t":6905.823,"f":0.99753},{"t":6905.826,"f":0.99654},{"t":6905.829,"f":0.99802},{"t":6905.832,"f":0.9983},{"t":6905.835,"f":0.99793},{"t":6905.838,"f":0.99721},{"t":6905.841,"f":0.99814},{"t":6905.844,"f":0.99847},{"t":6905.847,"f":0.9975},{"t":6905.85,"f":0.99678},{"t":6905.853,"f":0.99772},{"t":6905.856,"f":0.99811},{"t":6905.859,"f":0.9973},{"t":6905.862,"f":0.99869},{"t":6905.865,"f":0.99753},{"t":6905.868,"f":0.99697},{"t":6905.871,"f":0.99791},{"t":6905.874,"f":0.9982},{"t":6905.877,"f":0.99715},{"t":6905.88,"f":0.9976},{"t":6905.883,"f":0.99649},{"t":6905.886,"f":0.99784},{"t":6905.889,"f":0.99844},{"t":6905.892,"f":0.99728},{"t":6905.895,"f":0.99768},{"t":6905.898,"f":0.99708},{"t":6905.901,"f":0.99808},{"t":6905.904,"f":0.99744},{"t":6905.907,"f":0.99795},{"t":6905.91,"f":0.99686},{"t":6905.913,"f":0.99882},{"t":6905.916,"f":0.99723},{"t":6905.919,"f":0.99784},{"t":6905.922,"f":0.9983},{"t":6905.925,"f":0.99705},{"t":6905.928,"f":0.99762},{"t":6905.931,"f":0.99809},{"t":6905.934,"f":0.99671},{"t":6905.937,"f":0.99827},{"t":6905.94,"f":0.99789},{"t":6905.943,"f":0.99751},{"t":6905.946,"f":0.99858},{"t":6905.949,"f":0.99709},{"t":6905.952,"f":0.99783},{"t":6905.955,"f":0.99817},{"t":6905.958,"f":0.99747},{"t":6905.961,"f":0.99891},{"t":6905.964,"f":0.99791},{"t":6905.967,"f":0.9972},{"t":6905.97,"f":0.99835},{"t":6905.973,"f":0.9989},{"t":6905.976,"f":0.998},{"t":6905.979,"f":0.9985},{"t":6905.982,"f":0.99795},{"t":6905.985,"f":0.99905},{"t":6905.988,"f":0.99861},{"t":6905.991,"f":1.00002},{"t":6905.994,"f":0.99858},{"t":6905.997,"f":0.99954},{"t":6906.0,"f":1.00037},{"t":6906.003,"f":0.99942},{"t":6906.006,"f":0.99847},{"t":6906.009,"f":0.99997},{"t":6906.012,"f":1.00027},{"t":6906.015,"f":0.99992},{"t":6906.018,"f":0.99922},{"t":6906.021,"f":1.00017},{"t":6906.024,"f":1.00052},{"t":6906.027,"f":0.99957},{"t":6906.03,"f":0.99887},{"t":6906.033,"f":0.99982},{"t":6906.036,"f":1.00022},{"t":6906.039,"f":0.99942},{"t":6906.042,"f":1.00082},{"t":6906.045,"f":0.99967},{"t":6906.048,"f":0.99912},{"t":6906.051,"f":1.00007},{"t":6906.054,"f":1.00037},{"t":6906.057,"f":0.99932},{"t":6906.06,"f":0.99977},{"t":6906.063,"f":0.99867},{"t":6906.066,"f":1.00001},{"t":6906.069,"f":1.00061},{"t":6906.072,"f":0.99946},{"t":6906.075,"f":0.99986},{"t":6906.078,"f":0.99926},{"t":6906.081,"f":1.00026},{"t":6906.084,"f":0.99961},{"t":6906.087,"f":1.00011},{"t":6906.09,"f":0.99901},{"t":6906.093,"f":1.00094},{"t":6906.096,"f":0.99934},{"t":6906.099,"f":0.99994},{"t":6906.102,"f":1.00039},{"t":6906.105,"f":0.99914},{"t":6906.108,"f":0.99969},{"t":6906.111,"f":1.00014},{"t":6906.114,"f":0.99874},{"t":6906.117,"f":1.00029},{"t":6906.12,"f":0.99988}],
"l3x":[{"t":6905.6565,"f":1.00048},{"t":6905.6595,"f":1.00018},{"t":6905.6625,"f":0.99868},{"t":6905.6655,"f":0.99963},{"t":6905.6685,"f":1.00058},{"t":6905.6715,"f":1.00003},{"t":6905.6745,"f":0.99933},{"t":6905.6775,"f":1.00098},{"t":6905.6805,"f":0.99978},{"t":6905.6835,"f":1.00043},{"t":6905.6865,"f":0.99943},{"t":6905.6895,"f":1.00008},{"t":6905.6925,"f":0.99968},{"t":6905.6955,"f":1.00068},{"t":6905.6985,"f":1.00023},{"t":6905.7015,"f":0.99913},{"t":6905.7045,"f":0.99988},{"t":6905.7075,"f":1.00093},{"t":6905.7105,"f":0.99953},{"t":6905.7135,"f":1.00028},{"t":6905.7165,"f":0.99998},{"t":6905.7195,"f":0.99928},{"t":6905.7225,"f":1.00078},{"t":6905.7255,"f":0.99973},{"t":6905.7285,"f":1.00013},{"t":6905.7315,"f":1.00053},{"t":6905.7345,"f":0.99898},{"t":6905.7375,"f":1.00038},{"t":6905.7405,"f":0.99993},{"t":6905.7435,"f":0.99938},{"t":6905.7465,"f":1.00063},{"t":6905.7495,"f":1.00018},{"t":6905.7525,"f":0.99958},{"t":6905.7555,"f":1.00118},{"t":6905.7585,"f":0.99923},{"t":6905.7615,"f":1.00033},{"t":6905.7645,"f":0.99983},{"t":6905.7675,"f":1.00048},{"t":6905.7705,"f":0.99948},{"t":6905.7735,"f":1.0},{"t":6905.7765,"f":0.99936},{"t":6905.7795,"f":1.00028},{"t":6905.7825,"f":0.99944},{"t":6905.7855,"f":0.99786},{"t":6905.7885,"f":0.99872},{"t":6905.7915,"f":0.99811},{"t":6905.7945,"f":0.99907},{"t":6905.7975,"f":0.99868},{"t":6905.8005,"f":0.99764},{"t":6905.8035,"f":0.9981},{"t":6905.8065,"f":0.99917},{"t":6905.8095,"f":0.99773},{"t":6905.8125,"f":0.99849},{"t":6905.8155,"f":0.99804},{"t":6905.8185,"f":0.99705},{"t":6905.8215,"f":0.9977},{"t":6905.8245,"f":0.99861},{"t":6905.8275,"f":0.99823},{"t":6905.8305,"f":0.99726},{"t":6905.8335,"f":0.99794},{"t":6905.8365,"f":0.99827},{"t":6905.8395,"f":0.99795},{"t":6905.8425,"f":0.99643},{"t":6905.8455,"f":0.99736},{"t":6905.8485,"f":0.99829},{"t":6905.8515,"f":0.99773},{"t":6905.8545,"f":0.99702},{"t":6905.8575,"f":0.99866},{"t":6905.8605,"f":0.99745},{"t":6905.8635,"f":0.99809},{"t":6905.8665,"f":0.99708},{"t":6905.8695,"f":0.99772},{"t":6905.8725,"f":0.99731},{"t":6905.8755,"f":0.9983},{"t":6905.8785,"f":0.99785},{"t":6905.8815,"f":0.99674},{"t":6905.8845,"f":0.99749},{"t":6905.8875,"f":0.99854},{"t":6905.8905,"f":0.99713},{"t":6905.8935,"f":0.99788},{"t":6905.8965,"f":0.99758},{"t":6905.8995,"f":0.99688},{"t":6905.9025,"f":0.99839},{"t":6905.9055,"f":0.99735},{"t":6905.9085,"f":0.99775},{"t":6905.9115,"f":0.99816},{"t":6905.9145,"f":0.99662},{"t":6905.9175,"f":0.99803},{"t":6905.9205,"f":0.99759},{"t":6905.9235,"f":0.99705},{"t":6905.9265,"f":0.99831},{"t":6905.9295,"f":0.99788},{"t":6905.9325,"f":0.9973},{"t":6905.9355,"f":0.99891},{"t":6905.9385,"f":0.99698},{"t":6905.9415,"f":0.9981},{"t":6905.9445,"f":0.99762},{"t":6905.9475,"f":0.99828},{"t":6905.9505,"f":0.9973},{"t":6905.9535,"f":0.99795},{"t":6905.9565,"f":0.9976},{"t":6905.9595,"f":0.99879},{"t":6905.9625,"f":0.99824},{"t":6905.9655,"f":0.99693},{"t":6905.9685,"f":0.99808},{"t":6905.9715,"f":0.9977},{"t":6905.9745,"f":0.99885},{"t":6905.9775,"f":0.99865},{"t":6905.9805,"f":0.9978},{"t":6905.9835,"f":0.99845},{"t":6905.9865,"f":0.99975},{"t":6905.9895,"f":0.99856},{"t":6905.9925,"f":0.99957},{"t":6905.9955,"f":0.9994},{"t":6905.9985,"f":0.99873},{"t":6906.0015,"f":0.99956},{"t":6906.0045,"f":1.00051},{"t":6906.0075,"f":1.00016},{"t":6906.0105,"f":0.99921},{"t":6906.0135,"f":0.99991},{"t":6906.0165,"f":1.00026},{"t":6906.0195,"f":0.99996},{"t":6906.0225,"f":0.99846},{"t":6906.0255,"f":0.99941},{"t":6906.0285,"f":1.00036},{"t":6906.0315,"f":0.99981},{"t":6906.0345,"f":0.99911},{"t":6906.0375,"f":1.00076},{"t":6906.0405,"f":0.99956},{"t":6906.0435,"f":1.00021},{"t":6906.0465,"f":0.99921},{"t":6906.0495,"f":0.99986},{"t":6906.0525,"f":0.99946},{"t":6906.0555,"f":1.00046},{"t":6906.0585,"f":1.00001},{"t":6906.0615,"f":0.99891},{"t":6906.0645,"f":0.99966},{"t":6906.0675,"f":1.00071},{"t":6906.0705,"f":0.99931},{"t":6906.0735,"f":1.00006},{"t":6906.0765,"f":0.99976},{"t":6906.0795,"f":0.99906},{"t":6906.0825,"f":1.00056},{"t":6906.0855,"f":0.99951},{"t":6906.0885,"f":0.99991},{"t":6906.0915,"f":1.00031},{"t":6906.0945,"f":0.99876},{"t":6906.0975,"f":1.00016},{"t":6906.1005,"f":0.99971},{"t":6906.1035,"f":0.99916},{"t":6906.1065,"f":1.00041},{"t":6906.1095,"f":0.99996},{"t":6906.1125,"f":0.99936},{"t":6906.1155,"f":1.00096},{"t":6906.1185,"f":0.99901}],
"l3trend":[{"t":6905.653,"f":1.0},{"t":6906.118,"f":0.99973}],
"l3model":[{"t":6905.653,"f":1.0},{"t":6905.773,"f":0.99994},{"t":6905.78,"f":0.9994},{"t":6905.79,"f":0.9986},{"t":6905.805,"f":0.99815},{"t":6905.825,"f":0.99785},{"t":6905.85,"f":0.99768},{"t":6905.875,"f":0.9976},{"t":6905.9,"f":0.99758},{"t":6905.925,"f":0.99765},{"t":6905.95,"f":0.9978},{"t":6905.97,"f":0.9981},{"t":6905.985,"f":0.9986},{"t":6905.995,"f":0.9993},{"t":6906.0,"f":0.99977},{"t":6906.118,"f":0.99973}],
"r3pts":[{"t":6905.659,"f":1.00007},{"t":6905.662,"f":0.99953},{"t":6905.665,"f":1.00043},{"t":6905.668,"f":0.99985},{"t":6905.671,"f":1.0003},{"t":6905.674,"f":0.99931},{"t":6905.677,"f":1.00106},{"t":6905.68,"f":0.99962},{"t":6905.683,"f":1.00016},{"t":6905.686,"f":1.00057},{"t":6905.689,"f":0.99944},{"t":6905.692,"f":0.99994},{"t":6905.695,"f":1.00034},{"t":6905.698,"f":0.99908},{"t":6905.701,"f":1.00048},{"t":6905.704,"f":1.00012},{"t":6905.707,"f":0.99976},{"t":6905.71,"f":1.0007},{"t":6905.713,"f":0.99935},{"t":6905.716,"f":0.99998},{"t":6905.719,"f":1.00025},{"t":6905.722,"f":0.99958},{"t":6905.725,"f":1.00084},{"t":6905.728,"f":0.99989},{"t":6905.731,"f":0.99922},{"t":6905.734,"f":1.00021},{"t":6905.737,"f":1.00061},{"t":6905.74,"f":0.99971},{"t":6905.743,"f":1.00007},{"t":6905.746,"f":0.99949},{"t":6905.749,"f":1.00039},{"t":6905.752,"f":0.9998},{"t":6905.755,"f":1.00088},{"t":6905.758,"f":0.9994},{"t":6905.761,"f":1.00003},{"t":6905.764,"f":1.00052},{"t":6905.767,"f":0.99967},{"t":6905.77,"f":0.99881},{"t":6905.773,"f":1.00016},{"t":6905.776,"f":1.00021},{"t":6905.779,"f":0.99934},{"t":6905.782,"f":0.99815},{"t":6905.785,"f":0.99877},{"t":6905.788,"f":0.99904},{"t":6905.791,"f":0.99813},{"t":6905.794,"f":0.99745},{"t":6905.797,"f":0.99825},{"t":6905.8,"f":0.99856},{"t":6905.803,"f":0.99781},{"t":6905.806,"f":0.99905},{"t":6905.809,"f":0.99799},{"t":6905.812,"f":0.99747},{"t":6905.815,"f":0.9983},{"t":6905.818,"f":0.99855},{"t":6905.821,"f":0.99758},{"t":6905.824,"f":0.99796},{"t":6905.827,"f":0.99695},{"t":6905.83,"f":0.99815},{"t":6905.833,"f":0.99867},{"t":6905.836,"f":0.99762},{"t":6905.839,"f":0.99796},{"t":6905.842,"f":0.9974},{"t":6905.845,"f":0.99829},{"t":6905.848,"f":0.99769},{"t":6905.851,"f":0.99813},{"t":6905.854,"f":0.99714},{"t":6905.857,"f":0.99888},{"t":6905.86,"f":0.99744},{"t":6905.863,"f":0.99797},{"t":6905.866,"f":0.99837},{"t":6905.869,"f":0.99724},{"t":6905.872,"f":0.99773},{"t":6905.875,"f":0.99814},{"t":6905.878,"f":0.99688},{"t":6905.881,"f":0.99828},{"t":6905.884,"f":0.99792},{"t":6905.887,"f":0.99756},{"t":6905.89,"f":0.99851},{"t":6905.893,"f":0.99716},{"t":6905.896,"f":0.99779},{"t":6905.899,"f":0.99806},{"t":6905.902,"f":0.99739},{"t":6905.905,"f":0.99866},{"t":6905.908,"f":0.99772},{"t":6905.911,"f":0.99706},{"t":6905.914,"f":0.99805},{"t":6905.917,"f":0.99846},{"t":6905.92,"f":0.99757},{"t":6905.923,"f":0.99794},{"t":6905.926,"f":0.99736},{"t":6905.929,"f":0.99828},{"t":6905.932,"f":0.99771},{"t":6905.935,"f":0.9988},{"t":6905.938,"f":0.99734},{"t":6905.941,"f":0.99798},{"t":6905.944,"f":0.99849},{"t":6905.947,"f":0.99764},{"t":6905.95,"f":0.99681},{"t":6905.953,"f":0.99819},{"t":6905.956,"f":0.99849},{"t":6905.959,"f":0.99821},{"t":6905.962,"f":0.9976},{"t":6905.965,"f":0.99849},{"t":6905.968,"f":0.99884},{"t":6905.971,"f":0.99802},{"t":6905.974,"f":0.99745},{"t":6905.977,"f":0.99837},{"t":6905.98,"f":0.99879},{"t":6905.983,"f":0.99813},{"t":6905.986,"f":0.99957},{"t":6905.989,"f":0.99904},{"t":6905.992,"f":0.99905},{"t":6905.995,"f":1.00005},{"t":6905.998,"f":1.00032},{"t":6906.001,"f":0.99938},{"t":6906.004,"f":0.99978},{"t":6906.007,"f":0.99879},{"t":6906.01,"f":1.00001},{"t":6906.013,"f":1.00055},{"t":6906.016,"f":0.99951},{"t":6906.019,"f":0.99987},{"t":6906.022,"f":0.99933},{"t":6906.025,"f":1.00023},{"t":6906.028,"f":0.99965},{"t":6906.031,"f":1.0001},{"t":6906.034,"f":0.9991},{"t":6906.037,"f":1.00086},{"t":6906.04,"f":0.99942},{"t":6906.043,"f":0.99996},{"t":6906.046,"f":1.00036},{"t":6906.049,"f":0.99924},{"t":6906.052,"f":0.99973},{"t":6906.055,"f":1.00014},{"t":6906.058,"f":0.99888},{"t":6906.061,"f":1.00027},{"t":6906.064,"f":0.99991},{"t":6906.067,"f":0.99955},{"t":6906.07,"f":1.00049},{"t":6906.073,"f":0.99915},{"t":6906.076,"f":0.99977},{"t":6906.079,"f":1.00004},{"t":6906.082,"f":0.99936},{"t":6906.085,"f":1.00062},{"t":6906.088,"f":0.99968},{"t":6906.091,"f":0.999},{"t":6906.094,"f":0.99999},{"t":6906.097,"f":1.0004},{"t":6906.1,"f":0.9995},{"t":6906.103,"f":0.99986},{"t":6906.106,"f":0.99927},{"t":6906.109,"f":1.00017},{"t":6906.112,"f":0.99959}],
"r3x":[{"t":6905.6605,"f":1.00057},{"t":6905.6635,"f":1.00016},{"t":6905.6665,"f":0.99962},{"t":6905.6695,"f":1.00106},{"t":6905.6725,"f":0.99931},{"t":6905.6755,"f":1.0003},{"t":6905.6785,"f":0.99985},{"t":6905.6815,"f":1.00043},{"t":6905.6845,"f":0.99953},{"t":6905.6875,"f":1.00007},{"t":6905.6905,"f":0.99971},{"t":6905.6935,"f":1.00075},{"t":6905.6965,"f":1.00021},{"t":6905.6995,"f":0.99899},{"t":6905.7025,"f":0.99998},{"t":6905.7055,"f":0.99958},{"t":6905.7085,"f":1.00052},{"t":6905.7115,"f":1.00025},{"t":6905.7145,"f":0.9994},{"t":6905.7175,"f":0.99989},{"t":6905.7205,"f":1.00093},{"t":6905.7235,"f":0.99967},{"t":6905.7265,"f":1.00039},{"t":6905.7295,"f":1.00003},{"t":6905.7325,"f":0.99917},{"t":6905.7355,"f":0.9998},{"t":6905.7385,"f":1.00066},{"t":6905.7415,"f":1.00034},{"t":6905.7445,"f":0.99949},{"t":6905.7475,"f":1.00012},{"t":6905.7505,"f":1.00043},{"t":6905.7535,"f":1.00016},{"t":6905.7565,"f":0.99881},{"t":6905.7595,"f":0.99967},{"t":6905.7625,"f":1.00052},{"t":6905.7655,"f":1.00003},{"t":6905.7685,"f":0.9994},{"t":6905.7715,"f":1.00088},{"t":6905.7745,"f":0.9998},{"t":6905.7775,"f":0.99989},{"t":6905.7805,"f":0.99843},{"t":6905.7835,"f":0.99853},{"t":6905.7865,"f":0.99812},{"t":6905.7895,"f":0.99896},{"t":6905.7925,"f":0.99851},{"t":6905.7955,"f":0.99747},{"t":6905.7985,"f":0.99809},{"t":6905.8015,"f":0.999},{"t":6905.8045,"f":0.99771},{"t":6905.8075,"f":0.99836},{"t":6905.8105,"f":0.99806},{"t":6905.8135,"f":0.99741},{"t":6905.8165,"f":0.99874},{"t":6905.8195,"f":0.99778},{"t":6905.8225,"f":0.99811},{"t":6905.8255,"f":0.99845},{"t":6905.8285,"f":0.99703},{"t":6905.8315,"f":0.99827},{"t":6905.8345,"f":0.99786},{"t":6905.8375,"f":0.99734},{"t":6905.8405,"f":0.99845},{"t":6905.8435,"f":0.99802},{"t":6905.8465,"f":0.99747},{"t":6905.8495,"f":0.9989},{"t":6905.8525,"f":0.99714},{"t":6905.8555,"f":0.99812},{"t":6905.8585,"f":0.99767},{"t":6905.8615,"f":0.99824},{"t":6905.8645,"f":0.99734},{"t":6905.8675,"f":0.99787},{"t":6905.8705,"f":0.99751},{"t":6905.8735,"f":0.99855},{"t":6905.8765,"f":0.99801},{"t":6905.8795,"f":0.99679},{"t":6905.8825,"f":0.99778},{"t":6905.8855,"f":0.99738},{"t":6905.8885,"f":0.99833},{"t":6905.8915,"f":0.99806},{"t":6905.8945,"f":0.99721},{"t":6905.8975,"f":0.9977},{"t":6905.9005,"f":0.99874},{"t":6905.9035,"f":0.99749},{"t":6905.9065,"f":0.99822},{"t":6905.9095,"f":0.99787},{"t":6905.9125,"f":0.99701},{"t":6905.9155,"f":0.99765},{"t":6905.9185,"f":0.99852},{"t":6905.9215,"f":0.9982},{"t":6905.9245,"f":0.99736},{"t":6905.9275,"f":0.998},{"t":6905.9305,"f":0.99833},{"t":6905.9335,"f":0.99807},{"t":6905.9365,"f":0.99674},{"t":6905.9395,"f":0.99761},{"t":6905.9425,"f":0.99848},{"t":6905.9455,"f":0.998},{"t":6905.9485,"f":0.99739},{"t":6905.9515,"f":0.9989},{"t":6905.9545,"f":0.99785},{"t":6905.9575,"f":0.99847},{"t":6905.9605,"f":0.9976},{"t":6905.9635,"f":0.99821},{"t":6905.9665,"f":0.99788},{"t":6905.9695,"f":0.99881},{"t":6905.9725,"f":0.99846},{"t":6905.9755,"f":0.99753},{"t":6905.9785,"f":0.99826},{"t":6905.9815,"f":0.99928},{"t":6905.9845,"f":0.99808},{"t":6905.9875,"f":0.99914},{"t":6905.9905,"f":0.99938},{"t":6905.9935,"f":0.99915},{"t":6905.9965,"f":1.0005},{"t":6905.9995,"f":0.99956},{"t":6906.0025,"f":0.99992},{"t":6906.0055,"f":1.00028},{"t":6906.0085,"f":0.99888},{"t":6906.0115,"f":1.00014},{"t":6906.0145,"f":0.99974},{"t":6906.0175,"f":0.99924},{"t":6906.0205,"f":1.00037},{"t":6906.0235,"f":0.99996},{"t":6906.0265,"f":0.99942},{"t":6906.0295,"f":1.00086},{"t":6906.0325,"f":0.99911},{"t":6906.0355,"f":1.0001},{"t":6906.0385,"f":0.99965},{"t":6906.0415,"f":1.00023},{"t":6906.0445,"f":0.99933},{"t":6906.0475,"f":0.99987},{"t":6906.0505,"f":0.99951},{"t":6906.0535,"f":1.00055},{"t":6906.0565,"f":1.00001},{"t":6906.0595,"f":0.99879},{"t":6906.0625,"f":0.99978},{"t":6906.0655,"f":0.99938},{"t":6906.0685,"f":1.00032},{"t":6906.0715,"f":1.00005},{"t":6906.0745,"f":0.9992},{"t":6906.0775,"f":0.99969},{"t":6906.0805,"f":1.00073},{"t":6906.0835,"f":0.99947},{"t":6906.0865,"f":1.00019},{"t":6906.0895,"f":0.99983},{"t":6906.0925,"f":0.99897},{"t":6906.0955,"f":0.9996},{"t":6906.0985,"f":1.00046},{"t":6906.1015,"f":1.00014},{"t":6906.1045,"f":0.99929},{"t":6906.1075,"f":0.99992},{"t":6906.1105,"f":1.00023}],
"r3trend":[{"t":6905.659,"f":1.00002},{"t":6906.112,"f":0.99974}],
"r3model":[{"t":6905.659,"f":1.0},{"t":6905.775,"f":0.99995},{"t":6905.783,"f":0.99845},{"t":6905.8,"f":0.99815},{"t":6905.825,"f":0.99795},{"t":6905.85,"f":0.99782},{"t":6905.875,"f":0.99778},{"t":6905.9,"f":0.99779},{"t":6905.925,"f":0.99785},{"t":6905.95,"f":0.99798},{"t":6905.97,"f":0.99818},{"t":6905.985,"f":0.99845},{"t":6905.993,"f":0.9998},{"t":6906.112,"f":0.99975}],
"bmain":[{"t":6904.99971,"f":1.00316,"t2":6906.17298,"f2":1.010469}],
"bcenter":[{"t":6904.96773,"f":1.00296,"t2":6906.17298,"f2":1.010469}],
"bedge":[{"t":6905.02496,"f":1.002195,"t2":6906.19823,"f2":1.009504},{"t":6904.97447,"f":1.004125,"t2":6906.14774,"f2":1.011435}],
"btext":[{"t":6905.58678,"f":1.006816,"label":"PHOTON-NOISE DOMINATED"}]
},
"vconcat":[
 {"hconcat":[
  {"width":298,"height":180,"title":{"text":"FGS1","dx":8,"dy":41,"anchor":"middle"},
   "encoding":{
    "x":{"field":"t","type":"quantitative","scale":{"domain":[6905.631,6906.14],"nice":false,"zero":false},"axis":{"values":[6905.8,6906.0],"format":".1f","title":"Time (days)","labelPadding":12,"titleY":62}},
    "y":{"field":"f","type":"quantitative","scale":{"domain":[0.98452,1.01355],"nice":false,"zero":false},"axis":{"values":[0.99,1.0,1.01],"format":".2f","title":"flux (noise+transit)","titleX":-73,"titleY":79}}},
   "layer":[
    {"data":{"name":"l1light"},"mark":{"type":"area","color":"#dedede","opacity":1},"encoding":{"y2":{"field":"f2"}}},
    {"data":{"name":"l1out"},"mark":{"type":"tick","orient":"vertical","size":36,"thickness":2.5,"color":"#dedede","opacity":1}},
    {"data":{"name":"l1band"},"mark":{"type":"area","color":"#8a8a8a","opacity":1},"encoding":{"y2":{"field":"f2"}}},
    {"data":{"name":"l1out"},"mark":{"type":"circle","size":22,"color":"#888888","opacity":1}},
    {"data":{"name":"l1trend"},"mark":{"type":"line","color":"#a3a3a3","strokeWidth":2}},
    {"data":{"name":"l1model"},"mark":{"type":"line","color":"#a0a0a0","strokeWidth":2}}
   ]},
  {"width":298,"height":180,"title":{"text":"FGS2","dx":-12,"dy":5,"anchor":"middle"},
   "encoding":{
    "x":{"field":"t","type":"quantitative","scale":{"domain":[6905.632,6906.137],"nice":false,"zero":false},"axis":{"values":[6905.8,6906.0],"format":".1f","title":"Time (days)","labelPadding":12,"titleY":62}},
    "y":{"field":"f","type":"quantitative","scale":{"domain":[0.98614,1.01186],"nice":false,"zero":false},"axis":{"values":[0.99,1.0,1.01],"format":".2f","title":null,"labelPadding":12}}},
   "layer":[
    {"data":{"name":"r1light"},"mark":{"type":"area","color":"#dedede","opacity":1},"encoding":{"y2":{"field":"f2"}}},
    {"data":{"name":"r1out"},"mark":{"type":"tick","orient":"vertical","size":38,"thickness":2.5,"color":"#dedede","opacity":1}},
    {"data":{"name":"r1band"},"mark":{"type":"area","color":"#8a8a8a","opacity":1},"encoding":{"y2":{"field":"f2"}}},
    {"data":{"name":"r1out"},"mark":{"type":"circle","size":22,"color":"#888888","opacity":1}},
    {"data":{"name":"r1trend"},"mark":{"type":"line","color":"#a3a3a3","strokeWidth":2}},
    {"data":{"name":"r1model"},"mark":{"type":"line","color":"#a0a0a0","strokeWidth":2}}
   ]}
 ],"spacing":123,"bounds":"flush"},
 {"hconcat":[
  {"hconcat":[
   {"width":1,"height":1,"data":{"values":[]},"mark":"point","view":{"stroke":null}},
   {"width":290,"height":178,
    "encoding":{
     "x":{"field":"t","type":"quantitative","scale":{"domain":[6905.632,6906.14],"nice":false,"zero":false},"axis":{"values":[6905.8,6906.0],"format":".1f","title":"Time (days)","labelPadding":8,"titleY":68}},
     "y":{"field":"f","type":"quantitative","scale":{"domain":[0.995,1.00295],"nice":false,"zero":false},"axis":{"values":[0.9975,1.0,1.0025],"format":".4f","title":"flux (noise+transit)","titleX":-94}}},
    "layer":[
     {"data":{"name":"l2pts"},"mark":{"type":"tick","orient":"vertical","size":30,"thickness":3,"color":"#dedede","opacity":1,"clip":true}},
     {"data":{"name":"l2x"},"mark":{"type":"tick","orient":"vertical","size":30,"thickness":3,"color":"#dedede","opacity":1,"clip":true}},
     {"data":{"name":"l2pts"},"mark":{"type":"circle","size":26,"color":"#888888","opacity":1}},
     {"data":{"name":"l2x"},"mark":{"type":"circle","size":26,"color":"#888888","opacity":1}},
     {"data":{"name":"l2trend"},"mark":{"type":"line","color":"#aaaaaa","strokeWidth":2.5}},
     {"data":{"name":"l2model"},"mark":{"type":"line","color":"#a5a5a5","strokeWidth":2.5}}
    ]}
  ],"spacing":20,"bounds":"flush"},
  {"width":289,"height":178,
   "encoding":{
    "x":{"field":"t","type":"quantitative","scale":{"domain":[6905.6352,6906.1349],"nice":false,"zero":false},"axis":{"values":[6905.8,6906.0],"format":".1f","title":"Time (days)","labelPadding":8,"titleY":68}},
    "y":{"field":"f","type":"quantitative","scale":{"domain":[0.995,1.00295],"nice":false,"zero":false},"axis":{"values":[0.998,1.0],"format":".3f","title":null,"labelPadding":12}}},
   "layer":[
    {"data":{"name":"r2pts"},"mark":{"type":"tick","orient":"vertical","size":40,"thickness":3,"color":"#dedede","opacity":1,"clip":true}},
    {"data":{"name":"r2x"},"mark":{"type":"tick","orient":"vertical","size":40,"thickness":3,"color":"#dedede","opacity":1,"clip":true}},
    {"data":{"name":"r2pts"},"mark":{"type":"circle","size":26,"color":"#888888","opacity":1}},
    {"data":{"name":"r2x"},"mark":{"type":"circle","size":26,"color":"#888888","opacity":1}},
    {"data":{"name":"r2trend"},"mark":{"type":"line","color":"#aaaaaa","strokeWidth":2.5}},
    {"data":{"name":"r2model"},"mark":{"type":"line","color":"#a5a5a5","strokeWidth":2.5}}
   ]}
 ],"spacing":431,"bounds":"flush"},
 {"hconcat":[
  {"hconcat":[
   {"width":1,"height":1,"data":{"values":[]},"mark":"point","view":{"stroke":null}},
   {"width":290,"height":178,
    "encoding":{
     "x":{"field":"t","type":"quantitative","scale":{"domain":[6905.632,6906.14],"nice":false,"zero":false},"axis":{"values":[6905.8,6906.0],"format":".1f","title":"Time (days)","labelPadding":4,"titleY":66}},
     "y":{"field":"f","type":"quantitative","scale":{"domain":[0.995757,1.002087],"nice":false,"zero":false},"axis":{"values":[0.9975,1.0],"format":".4f","title":"flux (noise+transit)","titleX":-94}}},
    "layer":[
     {"data":{"name":"l3pts"},"mark":{"type":"tick","orient":"vertical","size":32,"thickness":3,"color":"#dedede","opacity":1,"clip":true}},
     {"data":{"name":"l3x"},"mark":{"type":"tick","orient":"vertical","size":32,"thickness":3,"color":"#dedede","opacity":1,"clip":true}},
     {"data":{"name":"l3pts"},"mark":{"type":"circle","size":26,"color":"#888888","opacity":1}},
     {"data":{"name":"l3x"},"mark":{"type":"circle","size":26,"color":"#888888","opacity":1}},
     {"data":{"name":"l3trend"},"mark":{"type":"line","color":"#aaaaaa","strokeWidth":2.5}},
     {"data":{"name":"l3model"},"mark":{"type":"line","color":"#a5a5a5","strokeWidth":2.5}}
    ]}
  ],"spacing":20,"bounds":"flush"},
  {"width":289,"height":178,
   "encoding":{
    "x":{"field":"t","type":"quantitative","scale":{"domain":[6905.6352,6906.1349],"nice":false,"zero":false},"axis":{"values":[6905.8,6906.0],"format":".1f","title":"Time (days)","labelPadding":4,"titleY":66}},
    "y":{"field":"f","type":"quantitative","scale":{"domain":[0.996461,1.001208],"nice":false,"zero":false},"axis":{"values":[0.998,1.0],"format":".3f","title":null,"labelPadding":12}}},
   "layer":[
    {"data":{"name":"r3pts"},"mark":{"type":"tick","orient":"vertical","size":30,"thickness":3,"color":"#dedede","opacity":1,"clip":true}},
    {"data":{"name":"r3x"},"mark":{"type":"tick","orient":"vertical","size":30,"thickness":3,"color":"#dedede","opacity":1,"clip":true}},
    {"data":{"name":"r3pts"},"mark":{"type":"circle","size":26,"color":"#888888","opacity":1}},
    {"data":{"name":"r3x"},"mark":{"type":"circle","size":26,"color":"#888888","opacity":1}},
    {"data":{"name":"r3trend"},"mark":{"type":"line","color":"#aaaaaa","strokeWidth":2.5}},
    {"data":{"name":"r3model"},"mark":{"type":"line","color":"#a5a5a5","strokeWidth":2.5}},
    {"data":{"name":"bmain"},"mark":{"type":"rule","color":"#990000","strokeWidth":118,"strokeCap":"butt","clip":false},"encoding":{"x2":{"field":"t2"},"y2":{"field":"f2"}}},
    {"data":{"name":"bcenter"},"mark":{"type":"rule","color":"#990000","strokeWidth":78,"strokeCap":"butt","clip":false},"encoding":{"x2":{"field":"t2"},"y2":{"field":"f2"}}},
    {"data":{"name":"bedge"},"mark":{"type":"rule","color":"#990000","strokeWidth":40,"strokeCap":"round","clip":false},"encoding":{"x2":{"field":"t2"},"y2":{"field":"f2"}}},
    {"data":{"name":"btext"},"mark":{"type":"text","angle":338,"font":"Liberation Sans","fontWeight":"bold","fontSize":47,"color":"#ffffff","align":"center","baseline":"middle","clip":false},"encoding":{"text":{"field":"label"}}}
   ]}
 ],"spacing":431,"bounds":"flush"}
],
"spacing":293.5,
"bounds":"flush"
}
